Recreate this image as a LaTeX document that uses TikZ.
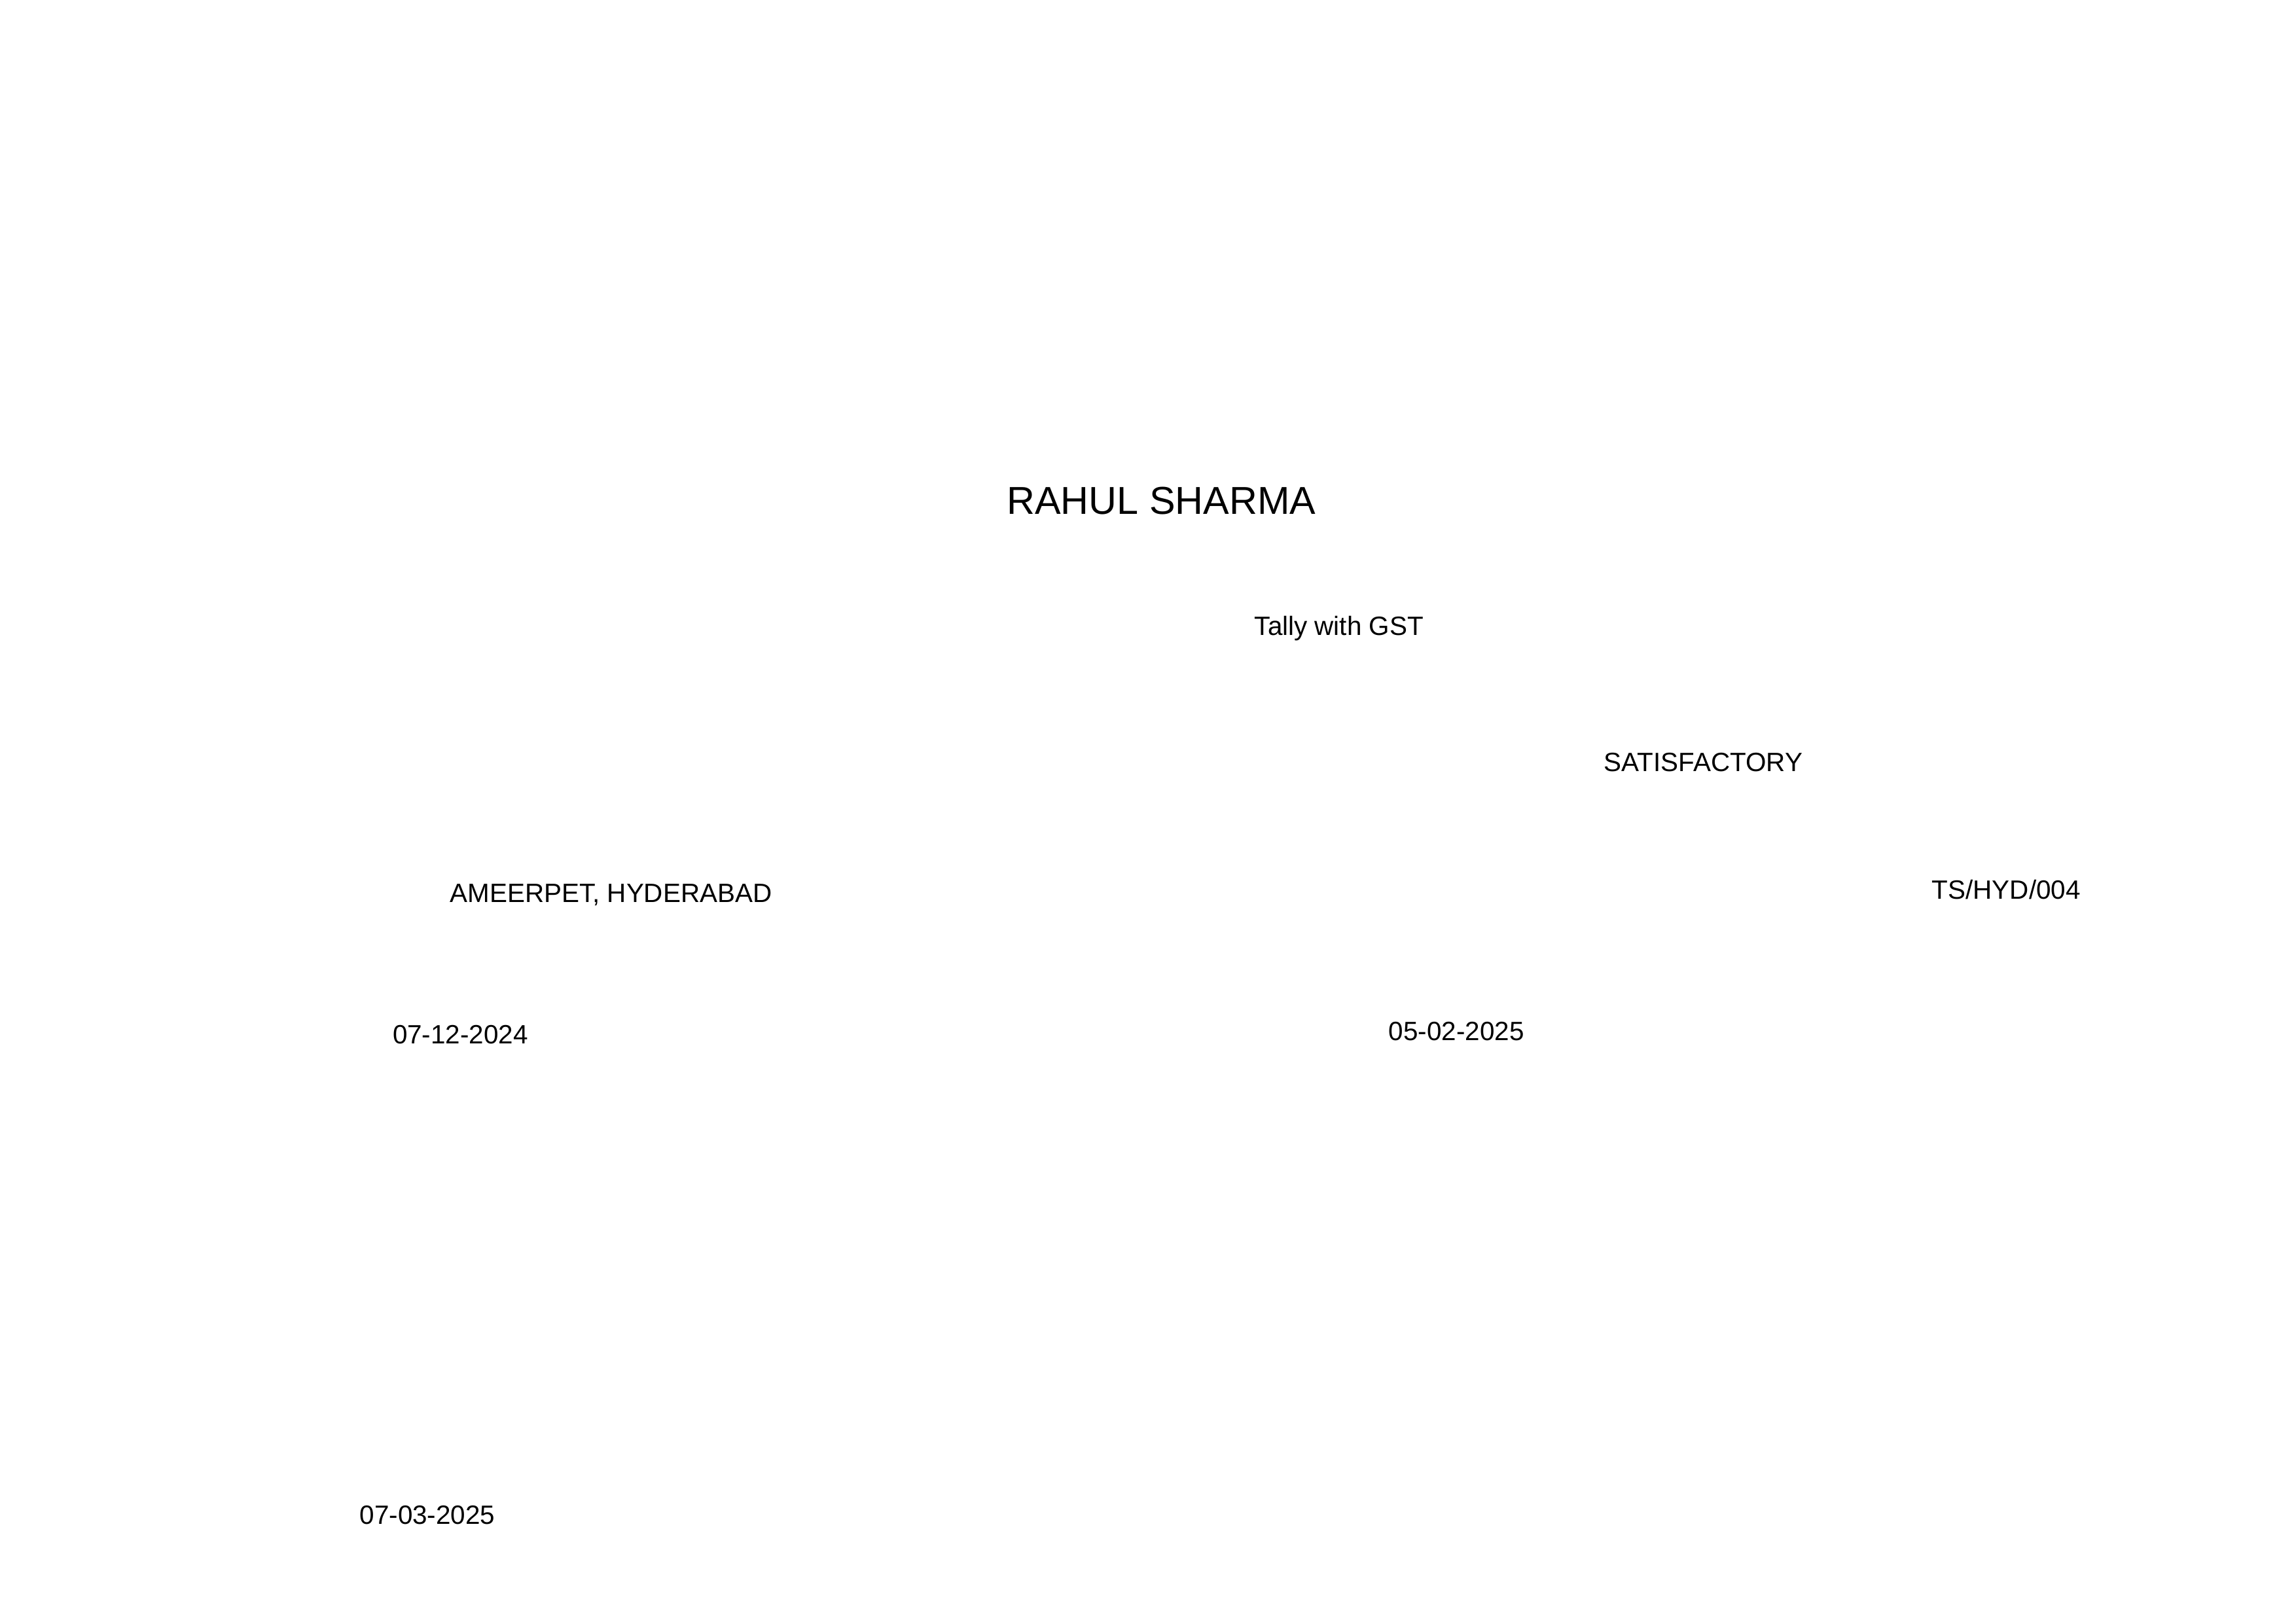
\documentclass[tikz,border=0pt]{standalone}
\usepackage{fontspec}
\setmainfont{Liberation Sans}
\begin{document}
\begin{tikzpicture}[x=1pt,y=1pt,
  lbl/.style={anchor=base west,inner sep=0pt,font=\fontsize{9.7}{11.6}\selectfont},
  ttl/.style={anchor=base west,inner sep=0pt,font=\fontsize{14.25}{17}\selectfont}]
\useasboundingbox (0,0) rectangle (841.89,-595.28);
\node[ttl] (name) at (369.0,-188.4) {RAHUL SHARMA};
\node[lbl] (course) at (459.8,-232.9) {Tally with GST};
\node[lbl] (result) at (588.0,-282.9) {SATISFACTORY};
\node[lbl] (place) at (164.8,-330.7) {AMEERPET, HYDERABAD};
\node[lbl] (code) at (708.2,-329.5) {TS/HYD/004};
\node[lbl] (start) at (143.8,-382.6) {07-12-2024};
\node[lbl] (finish) at (509.0,-381.5) {05-02-2025};
\node[lbl] (issue) at (131.7,-558.8) {07-03-2025};
\end{tikzpicture}
\end{document}
